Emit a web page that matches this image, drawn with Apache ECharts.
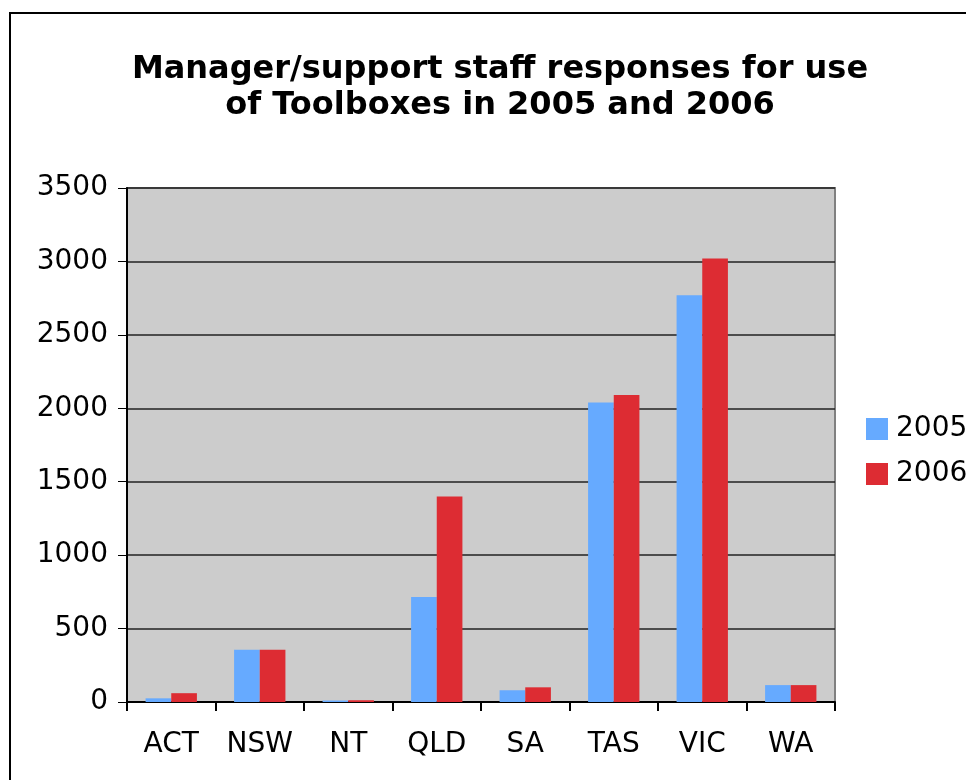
<!DOCTYPE html>
<html lang="en">
  <head>
    <meta charset="UTF-8" />
    <title>Manager/support staff responses</title>
    <script src="https://cdn.jsdelivr.net/npm/echarts@6/dist/echarts.min.js"></script>
    <style>
      html, body { margin: 0; padding: 0; background: #fff; }
      #wrap { position: relative; width: 966px; height: 780px; overflow: hidden; }
      #chart { width: 966px; height: 780px; }
      #frame {
        position: absolute; left: 9px; top: 12px; width: 1000px; height: 1000px;
        border: 2px solid #000; pointer-events: none;
      }
    </style>
  </head>
  <body>
    <div id="wrap">
      <div id="chart"></div>
      <div id="frame"></div>
    </div>
    <script>
      const states = ["ACT", "NSW", "NT", "QLD", "SA", "TAS", "VIC", "WA"];
      const y2005 = [25, 355, 10, 715, 80, 2040, 2770, 115];
      const y2006 = [60, 355, 12, 1400, 100, 2090, 3020, 115];

      const font = "DejaVu Sans";

      let chart = echarts.init(document.getElementById("chart"), null, {
        renderer: "canvas",
      });

      chart.setOption({
        animation: false,
        title: {
          text: "Manager/support staff responses for use\nof Toolboxes in 2005 and 2006",
          left: 495,
          top: 47,
          textAlign: "center",
          textStyle: {
            fontFamily: font,
            fontSize: 32,
            fontWeight: "bold",
            color: "#000",
            lineHeight: 36,
          },
        },
        legend: {
          orient: "vertical",
          left: 866,
          top: 415,
          padding: 0,
          icon: "rect",
          itemWidth: 22,
          itemHeight: 22,
          itemGap: 17,
          textStyle: { fontFamily: font, fontSize: 28, color: "#000", padding: [0, 0, 0, 3] },
        },
        grid: {
          left: 127,
          top: 188,
          width: 708,
          height: 514,
          show: true,
          backgroundColor: "#cccccc",
          borderColor: "#808080",
          borderWidth: 2,
        },
        xAxis: {
          type: "category",
          data: states,
          axisLine: { lineStyle: { color: "#000", width: 2 } },
          axisTick: { show: true, length: 9, lineStyle: { color: "#000", width: 2 } },
          axisLabel: { fontFamily: font, fontSize: 28, color: "#000", margin: 29 },
        },
        yAxis: {
          type: "value",
          min: 0,
          max: 3500,
          interval: 500,
          axisLine: { show: true, lineStyle: { color: "#000", width: 2 } },
          axisTick: { show: true, length: 9, lineStyle: { color: "#000", width: 1 } },
          axisLabel: {
            fontFamily: font,
            fontSize: 28,
            color: "#000",
            margin: 19,
            padding: [5, 0, 0, 0],
            formatter: (v) => String(v),
          },
          splitLine: { lineStyle: { color: "#222", width: 1.5 } },
        },
        series: [
          {
            name: "2005",
            type: "bar",
            data: y2005,
            barGap: "0%",
            barCategoryGap: "42%",
            itemStyle: { color: "#66aaff" },
          },
          {
            name: "2006",
            type: "bar",
            data: y2006,
            itemStyle: { color: "#dd2c33" },
          },
        ],
      });
    </script>
  </body>
</html>
